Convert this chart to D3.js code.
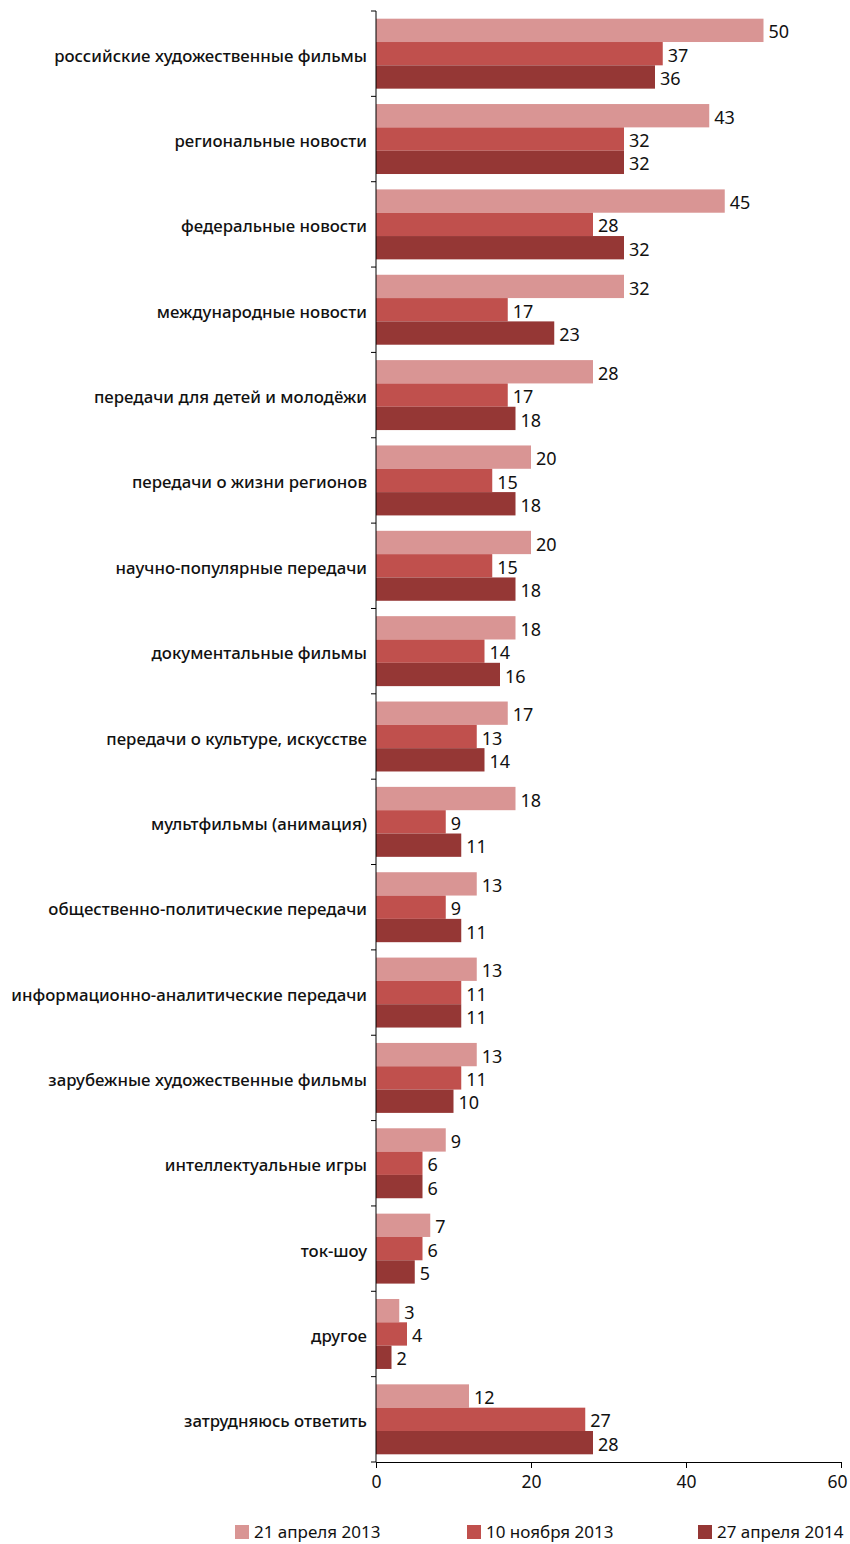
<!doctype html>
<html>
<head>
<meta charset="UTF-8">
<script src="https://d3js.org/d3.v7.min.js"></script>
<style>
  body { margin: 0; background: #fff; }
  svg text { font-family: "Noto Sans", sans-serif; fill: #111; }
</style>
</head>
<body>
<svg id="chart" width="850" height="1544"></svg>
<script>
    // категории и значения (%)
    var categories = [
        "российские художественные фильмы",
        "региональные новости",
        "федеральные новости",
        "международные новости",
        "передачи для детей и молодёжи",
        "передачи о жизни регионов",
        "научно-популярные передачи",
        "документальные фильмы",
        "передачи о культуре, искусстве",
        "мультфильмы (анимация)",
        "общественно-политические передачи",
        "информационно-аналитические передачи",
        "зарубежные художественные фильмы",
        "интеллектуальные игры",
        "ток-шоу",
        "другое",
        "затрудняюсь ответить"
    ];
    var seriesNames = ["21 апреля 2013", "10 ноября 2013", "27 апреля 2014"];
    var apr2013 = [50, 43, 45, 32, 28, 20, 20, 18, 17, 18, 13, 13, 13, 9, 7, 3, 12];
    var nov2013 = [37, 32, 28, 17, 17, 15, 15, 14, 13, 9, 9, 11, 11, 6, 6, 4, 27];
    var apr2014 = [36, 32, 32, 23, 18, 18, 18, 16, 14, 11, 11, 11, 10, 6, 5, 2, 28];
    var xTicks = [0, 20, 40, 60];
    var colors = ["#d99594", "#c0504d", "#953735"];

    var series = [apr2013, nov2013, apr2014];
    var pLeft = 376, pRight = 841, pTop = 11, pBottom = 1462;

    var svg = d3.select("#chart");

    var x = d3.scaleLinear().domain([0, 60]).range([pLeft, pRight]);
    var y = d3.scaleBand().domain(categories).range([pTop, pBottom]);
    var inner = d3.scaleBand().domain([0, 1, 2])
        .range([0, y.bandwidth()]).paddingOuter(0.33);

    var groups = svg.selectAll("g.cat").data(categories).enter()
        .append("g").attr("class", "cat")
        .attr("transform", function (d) { return "translate(0," + y(d) + ")"; });

    series.forEach(function (vals, s) {
        groups.append("rect")
            .attr("x", x(0))
            .attr("y", inner(s))
            .attr("width", function (d, i) { return x(vals[i]) - x(0); })
            .attr("height", inner.bandwidth())
            .attr("fill", colors[s]);
        groups.append("text")
            .attr("x", function (d, i) { return x(vals[i]) + 5; })
            .attr("y", inner(s) + inner.bandwidth() / 2)
            .attr("dy", "0.45em")
            .attr("font-size", 18)
            .text(function (d, i) { return vals[i]; });
    });

    // подписи категорий
    groups.append("text")
        .attr("x", 367)
        .attr("y", y.bandwidth() / 2)
        .attr("dy", "0.48em")
        .attr("text-anchor", "end")
        .attr("font-size", 16.8)
        .attr("font-weight", 500)
        .text(function (d) { return d; });

    // ось Y
    svg.append("line")
        .attr("x1", pLeft).attr("x2", pLeft)
        .attr("y1", pTop).attr("y2", pBottom)
        .attr("stroke", "#000");
    svg.selectAll("line.ytick").data(d3.range(categories.length + 1)).enter()
        .append("line").attr("class", "ytick")
        .attr("x1", pLeft - 5).attr("x2", pLeft)
        .attr("y1", function (i) { return pTop + i * y.step(); })
        .attr("y2", function (i) { return pTop + i * y.step(); })
        .attr("stroke", "#000");

    // ось X
    var xAxis = svg.append("g")
        .attr("transform", "translate(0," + pBottom + ")")
        .call(d3.axisBottom(x).tickValues(xTicks).tickSize(6).tickPadding(8));
    xAxis.select(".domain").attr("stroke", "#000");
    xAxis.selectAll("text").attr("font-size", 17.5).attr("fill", "#111")
        .style("font-family", "'Noto Sans', sans-serif")
        .attr("dx", function (d) { return d === 60 ? -4 : 0; });

    // легенда
    var legendX = [235, 467, 698];
    var legend = svg.selectAll("g.leg").data(seriesNames).enter()
        .append("g").attr("class", "leg")
        .attr("transform", function (d, i) { return "translate(" + legendX[i] + ",1525)"; });
    legend.append("rect").attr("width", 14).attr("height", 14)
        .attr("fill", function (d, i) { return colors[i]; });
    legend.append("text").attr("x", 19).attr("y", 7).attr("dy", "0.36em")
        .attr("font-size", 17)
        .text(function (d) { return d; });
</script>
</body>
</html>
